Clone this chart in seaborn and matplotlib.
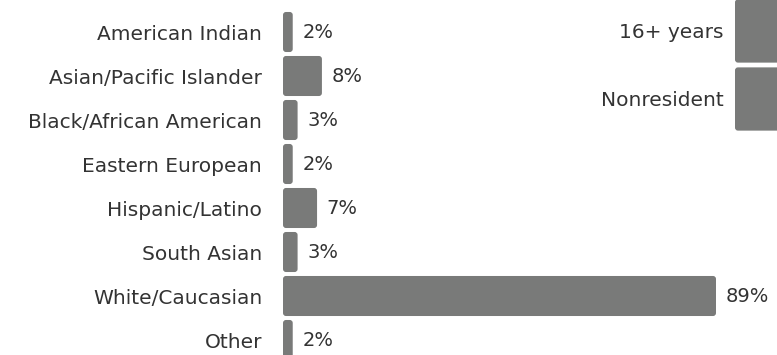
import matplotlib
matplotlib.use("Agg")
import matplotlib.pyplot as plt
from matplotlib.patches import FancyBboxPatch
import seaborn as sns
import pandas as pd

# Ethnicity breakdown (percent of respondents)
ethnicities = ["American Indian", "Asian/Pacific Islander", "Black/African American",
               "Eastern European", "Hispanic/Latino", "South Asian",
               "White/Caucasian", "Other"]
ethnicity_pct = [2, 8, 3, 2, 7, 3, 89, 2]

# Residency breakdown (percent of respondents)
residency = ["16+ years", "Nonresident"]
residency_pct = [62, 38]

BAR = "#797a79"
TEXT = "#333333"
FS = 14.5

sns.set_theme(style="white")
plt.rcParams["font.family"] = ["DejaVu Sans"]

W, H = 777, 355
fig = plt.figure(figsize=(W / 100, H / 100), dpi=100)
fig.patch.set_facecolor("white")

px_per_pct = 433 / 89.0


def axes_rect(left_px, top_px, bottom_px, xmax):
    width_px = xmax * px_per_pct
    return [left_px / W, 1 - bottom_px / H, width_px / W, (bottom_px - top_px) / H]


def round_bars(ax, row_px, radius_px=3):
    """Swap the plain bar rectangles for ones with softly rounded corners."""
    aspect = (1 / row_px) / (1 / px_per_pct)
    for p in list(ax.patches):
        x, y = p.get_x(), p.get_y()
        w, h = p.get_width(), p.get_height()
        r = min(radius_px / px_per_pct, w / 2.2)
        fb = FancyBboxPatch((x, y), w, h,
                            boxstyle=f"round,pad=0,rounding_size={r}",
                            mutation_aspect=aspect,
                            facecolor=BAR, edgecolor="none")
        p.set_visible(False)
        ax.add_patch(fb)


def draw_panel(ax, cats, vals, bar_width, label_pad, row_px, show_values=True):
    df = pd.DataFrame({"cat": cats, "pct": vals})
    sns.barplot(data=df, x="pct", y="cat", orient="h", color=BAR, width=bar_width,
                saturation=1, ax=ax)
    if show_values:
        ax.bar_label(ax.containers[0], labels=[f"{v}%" for v in vals], padding=7,
                     color=TEXT, fontsize=FS - 0.5)
    round_bars(ax, row_px)
    ax.set_xlim(0, 100)
    ax.set_xlabel("")
    ax.set_ylabel("")
    ax.set_xticks([])
    ax.tick_params(axis="y", length=0, pad=label_pad, labelsize=FS, labelcolor=TEXT)
    for s in ax.spines.values():
        s.set_visible(False)
    ax.patch.set_alpha(0)


# Ethnicity panel: rows 44 px apart, first row centred at y=32
ax1 = fig.add_axes(axes_rect(283, 32 - 22, 32 + 44 * 7.5, 100))
draw_panel(ax1, ethnicities, ethnicity_pct, 0.91, 15, 44)
ax1.set_ylim(7.5, -0.5)

# Residency panel: rows 68 px apart, first row centred at y=31
ax2 = fig.add_axes(axes_rect(735, 31 - 34, 31 + 68 * 1.5, 100))
draw_panel(ax2, residency, residency_pct, 0.93, 8, 68, show_values=False)
ax2.set_ylim(1.5, -0.5)

fig.savefig("out.png", dpi=100, facecolor="white")
